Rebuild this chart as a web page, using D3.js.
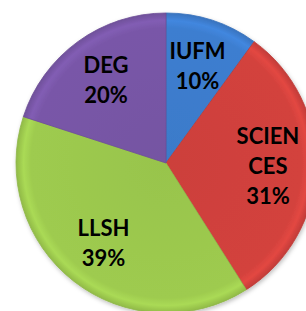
<!DOCTYPE html>
<html>
<head>
<meta charset="utf-8">
<script src="https://cdn.jsdelivr.net/npm/d3@7"></script>
<style>
  html, body { margin: 0; padding: 0; background: #fff; }
  svg { display: block; }
  text { font-family: Lato, "Open Sans", sans-serif; font-weight: bold; fill: #000; }
</style>
</head>
<body>
<svg id="chart" width="306" height="311"></svg>
<script>
// données
const categories = ["IUFM", "SCIENCES", "LLSH", "DEG"];
const values = [10, 31, 39, 20];
const colors = ["#3d7ed0", "#d3423d", "#9ecb4f", "#7957a8"];

const W = 306, H = 311;
const cx = 166, cy = 163, R = 150;

const svg = d3.select("#chart");
const defs = svg.append("defs");

// dégradés façon biseau (centrés sur le centre du camembert)
colors.forEach((c, i) => {
  const grad = defs.append("radialGradient")
    .attr("id", "grad" + i)
    .attr("gradientUnits", "userSpaceOnUse")
    .attr("cx", 0).attr("cy", 0).attr("r", R);
  const base = d3.color(c);
  grad.append("stop").attr("offset", "0%").attr("stop-color", base.darker(0.1));
  grad.append("stop").attr("offset", "90%").attr("stop-color", base);
  grad.append("stop").attr("offset", "95%").attr("stop-color", base.brighter(0.2));
  grad.append("stop").attr("offset", "100%").attr("stop-color", base.darker(0.25));
});

const shadow = defs.append("filter").attr("id", "shadow")
  .attr("x", "-10%").attr("y", "-10%").attr("width", "120%").attr("height", "120%");
shadow.append("feDropShadow").attr("dx", 1).attr("dy", 2).attr("stdDeviation", 2)
  .attr("flood-color", "#000").attr("flood-opacity", 0.25);

const data = categories.map((name, i) => ({ name, value: values[i], i }));

const pie = d3.pie().value(d => d.value).sort(null);
const arc = d3.arc().innerRadius(0).outerRadius(R);
const labelArc = d3.arc().innerRadius(102).outerRadius(102);

const g = svg.append("g").attr("transform", `translate(${cx},${cy})`);

const arcs = pie(data);

g.append("g").attr("filter", "url(#shadow)")
  .selectAll("path")
  .data(arcs)
  .enter()
  .append("path")
  .attr("d", arc)
  .attr("fill", d => `url(#grad${d.data.i})`)
  .attr("stroke", d => d3.color(colors[d.data.i]).darker(0.3))
  .attr("stroke-width", 0.8)
  .attr("stroke-linejoin", "round");

// étiquettes
const fontSize = 22, lineH = 30, maxW = 70;

function wrapWord(word, textEl) {
  const lines = [];
  let cur = "";
  for (const ch of word) {
    textEl.text(cur + ch);
    if (cur && textEl.node().getComputedTextLength() > maxW) {
      lines.push(cur);
      cur = ch;
    } else {
      cur += ch;
    }
  }
  if (cur) lines.push(cur);
  textEl.text("");
  return lines;
}

arcs.forEach(d => {
  const [x, y] = labelArc.centroid(d);
  const t = g.append("text")
    .attr("text-anchor", "middle")
    .attr("font-size", fontSize);
  const lines = wrapWord(d.data.name, t);
  lines.push(d.data.value + "%");
  const y0 = y - (lines.length - 1) * lineH / 2 + fontSize * 0.35;
  lines.forEach((l, k) => {
    t.append("tspan").attr("x", x).attr("y", y0 + k * lineH).text(l);
  });
});
</script>
</body>
</html>
